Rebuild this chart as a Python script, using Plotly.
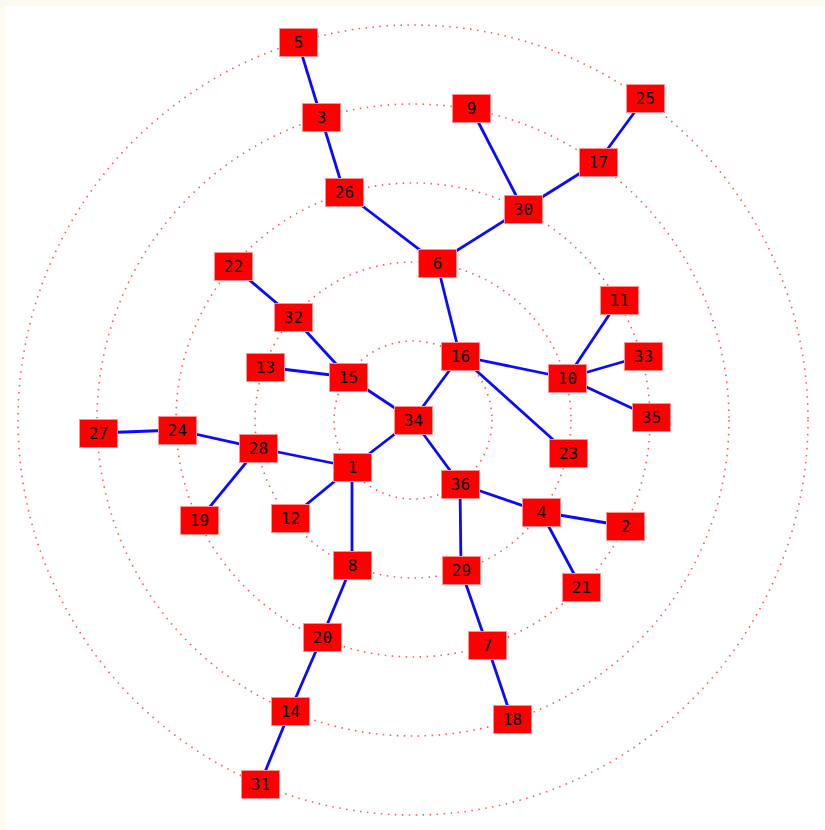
import plotly.graph_objects as go

# radial tree layout, root 34 at the centre; coords in px from centre, y up
node_ids = [34, 1, 15, 16, 36,
            12, 8, 28, 13, 32, 6, 10, 23, 4, 29,
            19, 24, 22, 26, 30, 11, 33, 35, 2, 21, 7, 20,
            27, 3, 9, 17, 18, 14,
            5, 25, 31]
node_x = [0, -61, -65, 47, 47,
          -123, -61, -155, -148, -120, 24, 154, 155, 128, 48,
          -214, -236, -180, -69, 110, 206, 230, 238, 212, 168, 74, -91,
          -315, -92, 58, 185, 99, -123,
          -115, 232, -153]
node_y = [0, -47, 43, 64, -64,
          -98, -145, -28, 53, 103, 157, 42, -33, -92, -150,
          -100, -10, 154, 228, 211, 120, 64, 3, -106, -167, -225, -217,
          -13, 303, 312, 258, -299, -291,
          378, 322, -364]

edges = [(34, 1), (34, 15), (34, 16), (34, 36),
         (1, 28), (1, 12), (1, 8), (15, 13), (15, 32),
         (16, 6), (16, 10), (16, 23), (36, 4), (36, 29),
         (28, 24), (28, 19), (24, 27), (32, 22),
         (6, 26), (6, 30), (26, 3), (3, 5),
         (30, 9), (30, 17), (17, 25),
         (10, 11), (10, 33), (10, 35),
         (4, 2), (4, 21), (29, 7), (7, 18),
         (8, 20), (20, 14), (14, 31)]

ring_radii = [79, 158, 237, 316, 395]

pos = {n: (x, y) for n, x, y in zip(node_ids, node_x, node_y)}

ex, ey = [], []
for a, b in edges:
    ex += [pos[a][0], pos[b][0], None]
    ey += [pos[a][1], pos[b][1], None]

fig = go.Figure()
fig.add_trace(go.Scatter(x=ex, y=ey, mode="lines",
                         line=dict(color="#0a0aff", width=2.8),
                         hoverinfo="skip", showlegend=False))

for r in ring_radii:
    fig.add_shape(type="circle", xref="x", yref="y",
                  x0=-r, y0=-r, x1=r, y1=r, layer="below",
                  line=dict(color="rgba(255,30,30,0.75)", width=1.6, dash="1.5px,5.5px"))

for n in node_ids:
    fig.add_annotation(x=pos[n][0], y=pos[n][1], text=str(n), showarrow=False,
                       font=dict(family="DejaVu Sans Mono", size=16, color="black"),
                       bgcolor="#ff0000", bordercolor="#ff9090", borderwidth=1,
                       borderpad=0, width=37, height=27,
                       xanchor="center", yanchor="middle")

fig.update_layout(
    width=825, height=830,
    margin=dict(l=5, r=0, t=6, b=0),
    paper_bgcolor="#fbf9f0", plot_bgcolor="white",
    xaxis=dict(range=[-408, 412], visible=False, fixedrange=True),
    yaxis=dict(range=[-410, 414], visible=False, fixedrange=True),
    showlegend=False,
)

fig.write_html("out.html", config={"displayModeBar": False},
               post_script="document.body.style.margin='0';")
